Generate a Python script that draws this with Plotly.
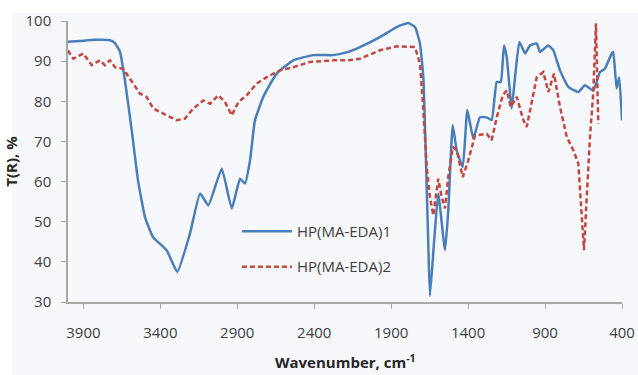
import plotly.graph_objects as go

# FTIR transmittance spectra of the two HP(MA-EDA) samples
wn_1 = [4000, 3922, 3825, 3727, 3695, 3662, 3630, 3586, 3545, 3500, 3448, 3359, 3290,
        3207, 3142, 3088, 3001, 2936, 2882, 2850, 2817, 2785, 2731, 2644, 2536, 2406,
        2276, 2179, 2103, 1973, 1864, 1789, 1745, 1713, 1691, 1674, 1659, 1648, 1622,
        1594, 1550, 1529, 1500, 1474, 1435, 1405, 1366, 1323, 1279, 1247, 1214, 1188,
        1167, 1149, 1117, 1095, 1067, 1030, 998, 954, 933, 879, 846, 803, 749, 684,
        641, 587, 543, 511, 467, 457, 435, 418, 400]
t_1 = [94.8, 95.0, 95.3, 95.2, 94.5, 92.3, 85.2, 72.8, 60.3, 51.2, 46.2, 42.9, 37.5,
       47.1, 57.0, 54.1, 63.2, 53.3, 60.7, 59.5, 65.3, 75.3, 81.1, 86.9, 90.2, 91.5,
       91.5, 92.3, 93.5, 96.0, 98.5, 99.5, 98.5, 94.4, 86.0, 65.3, 44.6, 31.5, 44.6,
       57.0, 42.9, 52.8, 74.0, 67.8, 63.6, 77.8, 70.7, 76.0, 76.0, 75.3, 84.8, 84.8,
       93.9, 91.0, 78.2, 86.0, 94.8, 91.9, 93.9, 94.4, 92.3, 93.9, 92.7, 87.7, 83.6,
       82.3, 84.0, 82.7, 87.3, 88.1, 91.9, 92.3, 83.2, 86.0, 75.3]

wn_2 = [4000, 3966, 3901, 3846, 3792, 3760, 3727, 3695, 3641, 3597, 3532, 3489, 3446,
        3359, 3294, 3240, 3186, 3121, 3077, 3023, 2980, 2936, 2893, 2839, 2774, 2709,
        2622, 2536, 2427, 2276, 2179, 2103, 1973, 1864, 1745, 1713, 1691, 1669, 1648,
        1626, 1594, 1572, 1550, 1529, 1500, 1474, 1435, 1399, 1355, 1279, 1247, 1214,
        1175, 1149, 1123, 1084, 1041, 1019, 987, 954, 911, 879, 842, 803, 759, 716,
        684, 662, 647, 629, 608, 587, 569, 554]
t_2 = [92.7, 90.6, 91.9, 89.0, 90.2, 89.0, 90.2, 88.5, 88.1, 85.6, 81.9, 81.1, 78.2,
       76.5, 75.3, 75.7, 78.2, 80.2, 79.4, 81.5, 79.8, 76.5, 79.8, 81.5, 84.4, 86.0,
       87.7, 88.5, 89.8, 90.2, 90.2, 90.6, 92.7, 93.7, 93.5, 89.4, 77.8, 63.6, 56.2,
       51.6, 60.7, 56.2, 53.3, 61.1, 68.6, 67.8, 61.1, 65.3, 71.5, 71.9, 70.3, 76.0,
       81.5, 82.7, 78.6, 81.1, 75.3, 73.6, 80.2, 86.0, 87.3, 82.3, 86.9, 78.6, 71.1,
       67.8, 64.5, 52.8, 42.9, 56.2, 71.1, 81.9, 99.4, 74.4]

x_ticks = [3900, 3400, 2900, 2400, 1900, 1400, 900, 400]
y_ticks = [30, 40, 50, 60, 70, 80, 90, 100]

FONT = "Open Sans"
AXIS_GREY = "#a6a6a6"
TEXT_GREY = "#404040"
BG = "#f6f8fc"

fig = go.Figure()
fig.add_trace(go.Scatter(x=wn_1, y=t_1, mode="lines", name="HP(MA-EDA)1", legendgroup="s1",
                         line=dict(color="#4a7ebb", width=2.5, shape="spline", smoothing=0.4)))
fig.add_trace(go.Scatter(x=wn_2, y=t_2, mode="lines", name="HP(MA-EDA)2", legendgroup="s2",
                         line=dict(color="#c4463f", width=2.5, dash="5px,3px")))

# chart-area panel behind the plot
fig.add_shape(type="rect", xref="paper", yref="paper", layer="below",
              x0=-56 / 554, x1=1.05, y0=-0.27, y1=1.03,
              fillcolor=BG, line=dict(width=0))

# x-axis title placed as an annotation below the tick labels
fig.add_annotation(text="<b>Wavenumber, cm<sup>-1</sup></b>", xref="paper", yref="paper",
                   x=0.5, y=-59 / 281, xanchor="center", yanchor="middle",
                   showarrow=False, borderpad=0,
                   font=dict(family=FONT, size=15, color="#262626"))

fig.update_layout(
    width=638, height=375,
    margin=dict(l=68, r=16, t=21, b=73),
    paper_bgcolor="white", plot_bgcolor=BG,
    font=dict(family=FONT, size=15, color=TEXT_GREY),
    showlegend=True,
    legend=dict(x=0.305, y=0.31, xanchor="left", yanchor="top",
                bgcolor="rgba(0,0,0,0)", font=dict(size=15, color=TEXT_GREY),
                itemwidth=50, tracegroupgap=13),
)
fig.update_xaxes(range=[4000, 400], tickvals=x_ticks, ticktext=[str(v) for v in x_ticks],
                 automargin=False,
                 showgrid=False, zeroline=False, showline=True, linecolor=AXIS_GREY,
                 linewidth=1.5, ticks="outside", ticklen=5, tickcolor=AXIS_GREY,
                 ticklabelstandoff=11,
                 tickfont=dict(size=15, color=TEXT_GREY))
fig.update_yaxes(range=[30, 100], tickvals=y_ticks, automargin=False,
                 showgrid=False, zeroline=False,
                 showline=True, linecolor=AXIS_GREY, linewidth=1.5, ticks="outside",
                 ticklen=5, tickcolor=AXIS_GREY, ticklabelstandoff=7,
                 tickfont=dict(size=15, color=TEXT_GREY),
                 title=dict(text="<b>T(R), %</b>", standoff=4,
                            font=dict(size=15, color="#262626")))

fig.write_html("out.html")
